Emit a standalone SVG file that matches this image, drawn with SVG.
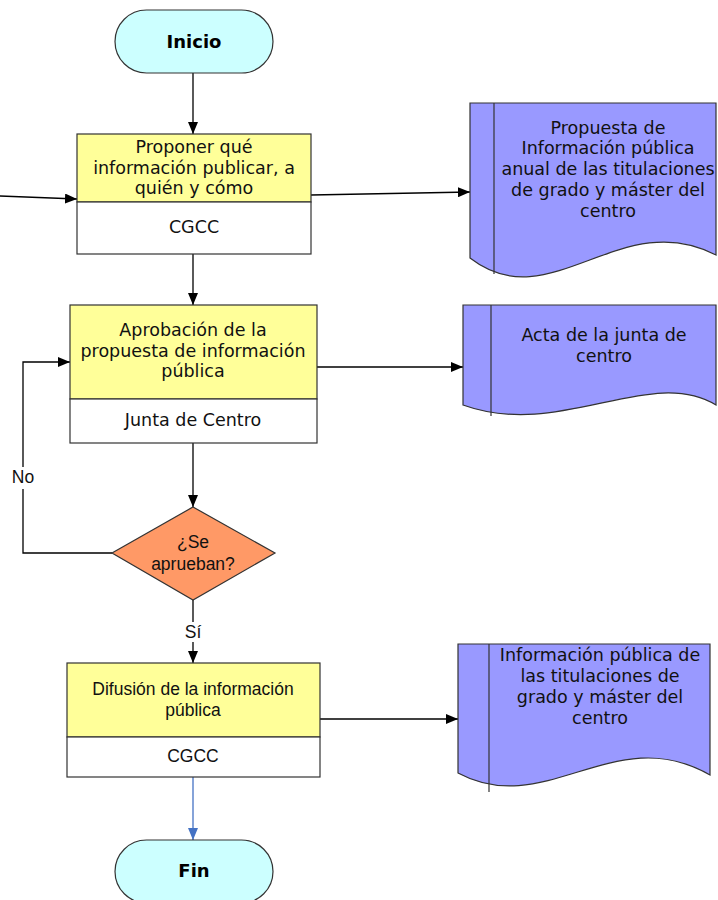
<svg xmlns="http://www.w3.org/2000/svg" width="718" height="900" viewBox="0 0 718 900">
<defs>
<marker id="ah" viewBox="0 0 12 10" refX="12" refY="5" markerWidth="12" markerHeight="10" markerUnits="userSpaceOnUse" orient="auto"><path d="M0,0 L12,5 L0,10 Z" fill="#000"/></marker>
<marker id="ahb" viewBox="0 0 12 10" refX="12" refY="5" markerWidth="12" markerHeight="10" markerUnits="userSpaceOnUse" orient="auto"><path d="M0,0 L12,5 L0,10 Z" fill="#4472C4"/></marker>
<style>
.term{fill:#CCFFFF;stroke:#333;stroke-width:1.2}
.proc{fill:#FFFF99;stroke:#333;stroke-width:1.2}
.who{fill:#FFFFFF;stroke:#333;stroke-width:1.2}
.doc{fill:#9999FF;stroke:#333;stroke-width:1.2}
.dec{fill:#FF9966;stroke:#333;stroke-width:1.2}
.v{font-family:"DejaVu Sans",Verdana,sans-serif;font-size:17.5px;fill:#111;text-anchor:middle}
.vb{font-family:"DejaVu Sans",Verdana,sans-serif;font-size:18px;font-weight:bold;fill:#000;text-anchor:middle}
.a{font-family:"Liberation Sans",Arial,sans-serif;font-size:17.5px;fill:#111;text-anchor:middle}
.c{fill:none;stroke:#000;stroke-width:1.3}
</style>
</defs>
<g id="connectors">
<line class="c" x1="193" y1="73" x2="193" y2="134" marker-end="url(#ah)"/>
<line class="c" x1="0" y1="196" x2="77" y2="199" marker-end="url(#ah)"/>
<line class="c" x1="311" y1="195" x2="470" y2="192" marker-end="url(#ah)"/>
<line class="c" x1="193" y1="254" x2="193" y2="305" marker-end="url(#ah)"/>
<line class="c" x1="317" y1="367" x2="463" y2="367" marker-end="url(#ah)"/>
<line class="c" x1="193" y1="443" x2="193" y2="507" marker-end="url(#ah)"/>
<polyline class="c" points="112,553 23,553 23,362 70,362" marker-end="url(#ah)"/>
<rect x="8" y="467" width="30" height="22" fill="#fff"/>
<text class="a" x="23" y="483">No</text>
<line class="c" x1="193" y1="600" x2="193" y2="663" marker-end="url(#ah)"/>
<rect x="180" y="622" width="26" height="20" fill="#fff"/>
<text class="a" x="193" y="638">Sí</text>
<line class="c" x1="320" y1="719" x2="458" y2="719" marker-end="url(#ah)"/>
<line x1="193" y1="777" x2="193" y2="840" stroke="#4472C4" stroke-width="1.3" marker-end="url(#ahb)"/>
</g>
<g id="inicio">
<rect class="term" x="115" y="10" width="158" height="63" rx="31.5"/>
<text class="vb" x="194" y="48">Inicio</text>
</g>
<g id="proponer">
<rect class="proc" x="77" y="134" width="234" height="68"/>
<rect class="who" x="77" y="202" width="234" height="52"/>
<text class="v" x="194" y="153">Proponer qué</text>
<text class="v" x="194" y="174">información publicar, a</text>
<text class="v" x="194" y="194">quién y cómo</text>
<text class="v" x="194" y="233">CGCC</text>
</g>
<g id="doc-propuesta">
<path class="doc" d="M470,103 H716 V255 C620,205 550,320 470,258 Z"/>
<line x1="494" y1="103" x2="494" y2="274" stroke="#333" stroke-width="1.2"/>
<text class="v" x="608" y="134">Propuesta de</text>
<text class="v" x="608" y="154">Información pública</text>
<text class="v" x="608" y="175">anual de las titulaciones</text>
<text class="v" x="608" y="196">de grado y máster del</text>
<text class="v" x="608" y="217">centro</text>
</g>
<g id="aprobacion">
<rect class="proc" x="70" y="305" width="247" height="94"/>
<rect class="who" x="70" y="399" width="247" height="44"/>
<text class="v" x="193" y="336">Aprobación de la</text>
<text class="v" x="193" y="357">propuesta de información</text>
<text class="v" x="193" y="377">pública</text>
<text class="v" x="193" y="426">Junta de Centro</text>
</g>
<g id="doc-acta">
<path class="doc" d="M463,305 H716 V405 C650,365 560,440 463,405 Z"/>
<line x1="491" y1="305" x2="491" y2="416" stroke="#333" stroke-width="1.2"/>
<text class="v" x="604" y="341">Acta de la junta de</text>
<text class="v" x="604" y="362">centro</text>
</g>
<g id="decision">
<polygon class="dec" points="193,507 275,553 193,600 112,553"/>
<text class="a" x="193" y="548">¿Se</text>
<text class="a" x="193" y="570">aprueban?</text>
</g>
<g id="difusion">
<rect class="proc" x="67" y="663" width="253" height="74"/>
<rect class="who" x="67" y="737" width="253" height="40"/>
<text class="a" x="193" y="695">Difusión de la información</text>
<text class="a" x="193" y="716">pública</text>
<text class="a" x="193" y="762">CGCC</text>
</g>
<g id="doc-informacion">
<path class="doc" d="M458,644 H710 V775 C615,720 545,820 458,773 Z"/>
<line x1="489" y1="644" x2="489" y2="792" stroke="#333" stroke-width="1.2"/>
<text class="v" x="600" y="661">Información pública de</text>
<text class="v" x="600" y="682">las titulaciones de</text>
<text class="v" x="600" y="703">grado y máster del</text>
<text class="v" x="600" y="724">centro</text>
</g>
<g id="fin">
<rect class="term" x="115" y="840" width="158" height="63" rx="31.5"/>
<text class="vb" x="194" y="877">Fin</text>
</g>
</svg>
